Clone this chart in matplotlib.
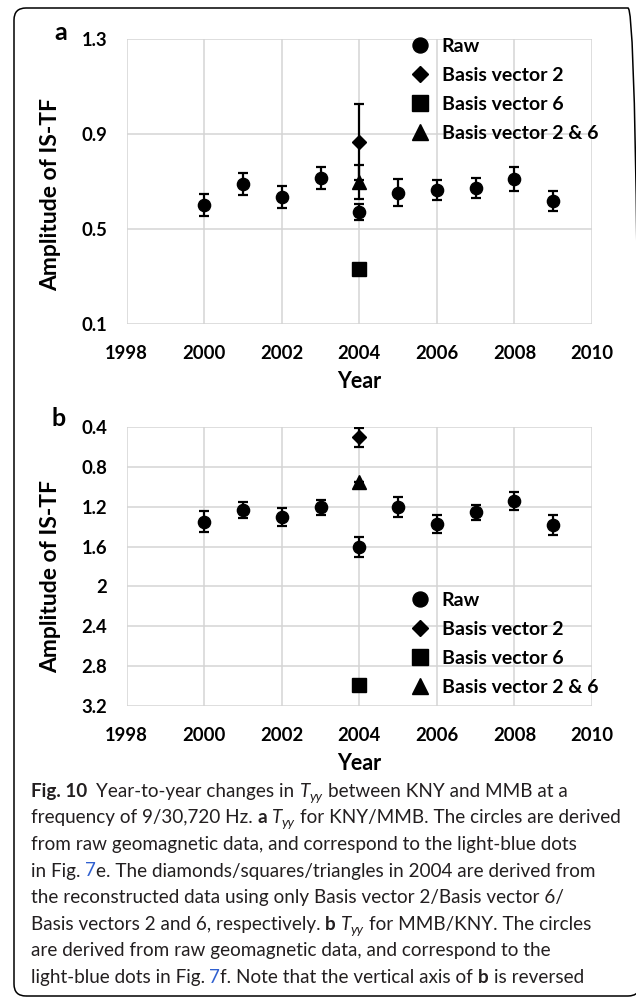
import matplotlib
matplotlib.use("Agg")
import matplotlib.pyplot as plt
from matplotlib.lines import Line2D
from matplotlib.patches import FancyBboxPatch
from matplotlib.transforms import IdentityTransform, offset_copy

# ---------------- data ----------------
years = [2000, 2001, 2002, 2003, 2004, 2005, 2006, 2007, 2008, 2009]
year_2004 = 2004

# panel a: Tyy for KNY/MMB
raw_a = [0.602, 0.692, 0.636, 0.716, 0.574, 0.654, 0.667, 0.675, 0.711, 0.618]
raw_a_err = [0.047, 0.046, 0.048, 0.045, 0.034, 0.058, 0.042, 0.042, 0.050, 0.043]
bv2_a, bv2_a_err = 0.866, 0.160
bv6_a, bv6_a_err = 0.332, 0.0
bv26_a, bv26_a_err = 0.700, 0.072

# panel b: Tyy for MMB/KNY
raw_b = [1.352, 1.235, 1.305, 1.209, 1.600, 1.202, 1.376, 1.259, 1.142, 1.386]
raw_b_err = [0.105, 0.080, 0.090, 0.077, 0.100, 0.100, 0.090, 0.074, 0.090, 0.100]
bv2_b, bv2_b_err = 0.507, 0.095
bv6_b, bv6_b_err = 2.983, 0.0
bv26_b, bv26_b_err = 0.951, 0.0

x_ticks = [1998, 2000, 2002, 2004, 2006, 2008, 2010]
y_ticks_a = [0.1, 0.5, 0.9, 1.3]
y_ticklabels_a = ["0.1", "0.5", "0.9", "1.3"]
y_ticks_b = [0.4, 0.8, 1.2, 1.6, 2.0, 2.4, 2.8, 3.2]
y_ticklabels_b = ["0.4", "0.8", "1.2", "1.6", "2", "2.4", "2.8", "3.2"]

series_labels = ["Raw", "Basis vector 2", "Basis vector 6", "Basis vector 2 & 6"]
x_label = "Year"
y_label = "Amplitude of IS-TF"

# ---------------- style ----------------
W, H = 636, 998
plt.rcParams["font.family"] = ["Lato", "DejaVu Sans"]

fig = plt.figure(figsize=(W / 100, H / 100), dpi=100)
fig.patch.set_facecolor("white")

GRID = "#d4d4d4"
INK = "black"
TICK_FS = 13.3
LABEL_FS = 16.5
XLABEL_FS = 15.5
LEG_FS = 14


def axes_rect(left, top, right, bottom):
    return [left / W, 1 - bottom / H, (right - left) / W, (bottom - top) / H]


def style_axes(ax, yticks, yticklabels):
    ax.set_xlim(x_ticks[0], x_ticks[-1])
    ax.set_xticks(x_ticks)
    ax.set_xticklabels([str(v) for v in x_ticks])
    ax.set_yticks(yticks)
    ax.set_yticklabels(yticklabels)
    for s in ax.spines.values():
        s.set_visible(False)
    ax.grid(True, color=GRID, linewidth=1.1)
    ax.set_axisbelow(True)
    ax.tick_params(length=0, labelsize=TICK_FS)
    ax.tick_params(axis="x", pad=15)
    ax.tick_params(axis="y", pad=14)
    for lab in ax.get_xticklabels() + ax.get_yticklabels():
        lab.set_fontweight("bold")


def draw_series(ax, raw, raw_err, bv2, bv2_err, bv6, bv6_err, bv26, bv26_err):
    eb = dict(fmt="none", ecolor=INK, elinewidth=1.6, capsize=3.3, capthick=1.6, zorder=3)
    ax.errorbar(years, raw, yerr=raw_err, **eb)
    ax.errorbar([year_2004], [bv2], yerr=[bv2_err], **eb)
    ax.errorbar([year_2004], [bv26], yerr=[bv26_err], **eb)
    if bv6_err > 0:
        ax.errorbar([year_2004], [bv6], yerr=[bv6_err], **eb)
    ax.plot(years, raw, "o", color=INK, ms=8.8, ls="none", zorder=4)
    ax.plot([year_2004], [bv2], "D", color=INK, ms=7.6, ls="none", zorder=4)
    ax.plot([year_2004], [bv6], "s", color=INK, ms=10.5, ls="none", zorder=4)
    ax.plot([year_2004], [bv26], "^", color=INK, ms=10.5, ls="none", zorder=4)


def add_legend(ax, top_px):
    handles = [
        Line2D([], [], marker="o", color=INK, ls="none", ms=10.8),
        Line2D([], [], marker="D", color=INK, ls="none", ms=8.4),
        Line2D([], [], marker="s", color=INK, ls="none", ms=11.0),
        Line2D([], [], marker="^", color=INK, ls="none", ms=11.5),
    ]
    leg = ax.legend(handles, series_labels, loc="upper left",
                    bbox_to_anchor=(411 / W, 1 - top_px / H),
                    bbox_transform=fig.transFigure,
                    frameon=False, borderpad=0, borderaxespad=0,
                    handlelength=0.95, handletextpad=0.62, labelspacing=0.62,
                    prop={"weight": "bold", "size": LEG_FS})
    return leg


def add_labels(ax, ylab_center_px, xlab_center_px, axes_box):
    left, top, right, bottom = axes_box
    ax.set_xlabel(x_label, fontsize=XLABEL_FS, fontweight="bold")
    ax.xaxis.set_label_coords((359 - left) / (right - left),
                              (bottom - xlab_center_px) / (bottom - top))
    ax.xaxis.label.set_va("center")
    ax.set_ylabel(y_label, fontsize=LABEL_FS, fontweight="bold")
    ax.yaxis.set_label_coords((50.7 - left) / (right - left),
                              (bottom - ylab_center_px) / (bottom - top))
    ax.yaxis.label.set_va("center")
    ax.yaxis.label.set_ha("center")


# ---------------- panel a ----------------
box_a = (126.7, 39.3, 592.0, 324.3)
ax_a = fig.add_axes(axes_rect(*box_a))
style_axes(ax_a, y_ticks_a, y_ticklabels_a)
ax_a.set_ylim(y_ticks_a[0], y_ticks_a[-1])
draw_series(ax_a, raw_a, raw_a_err, bv2_a, bv2_a_err, bv6_a, bv6_a_err, bv26_a, bv26_a_err)
add_legend(ax_a, 38)
add_labels(ax_a, 194.5, 381, box_a)
fig.text(61 / W, 1 - 33 / H, "a", fontsize=18, fontweight="bold", ha="center", va="center")

# ---------------- panel b (reversed vertical axis) ----------------
box_b = (126.7, 426.7, 592.0, 706.3)
ax_b = fig.add_axes(axes_rect(*box_b))
style_axes(ax_b, y_ticks_b, y_ticklabels_b)
ax_b.set_ylim(y_ticks_b[-1], y_ticks_b[0])
draw_series(ax_b, raw_b, raw_b_err, bv2_b, bv2_b_err, bv6_b, bv6_b_err, bv26_b, bv26_b_err)
add_legend(ax_b, 592)
add_labels(ax_b, 576.7, 763, box_b)
fig.text(59 / W, 1 - 418 / H, "b", fontsize=18, fontweight="bold", ha="center", va="center")

# ---------------- caption ----------------
CAP_FONT = ["Lato", "DejaVu Sans"]
CAP_INK = "#231f20"
LINK = "#3060d0"
TYY = "Tyy"               # drawn as italic T with italic subscript yy
CAP_LINE1_WIDTH = 538.0   # pixel width of the first caption line

caption_lines = [
    [("Fig. 10", "b"), ("  Year-to-year changes in ", "r"), (TYY, "m"),
     (" between KNY and MMB at a", "r")],
    [("frequency of 9/30,720 Hz. ", "r"), ("a", "b"), (" ", "r"), (TYY, "m"),
     (" for KNY/MMB. The circles are derived", "r")],
    [("from raw geomagnetic data, and correspond to the light-blue dots", "r")],
    [("in Fig. ", "r"), ("7", "link"),
     ("e. The diamonds/squares/triangles in 2004 are derived from", "r")],
    [("the reconstructed data using only Basis vector 2/Basis vector 6/", "r")],
    [("Basis vectors 2 and 6, respectively. ", "r"), ("b", "b"), (" ", "r"), (TYY, "m"),
     (" for MMB/KNY. The circles", "r")],
    [("are derived from raw geomagnetic data, and correspond to the", "r")],
    [("light-blue dots in Fig. ", "r"), ("7", "link"),
     ("f. Note that the vertical axis of ", "r"), ("b", "b"), (" is reversed", "r")],
]

renderer = fig.canvas.get_renderer()


def text_kwargs(kind, size):
    kw = dict(family=CAP_FONT, fontsize=size, color=CAP_INK, va="baseline", ha="left")
    if kind == "b":
        kw["fontweight"] = "bold"
    if kind in ("i", "m"):
        kw["fontstyle"] = "italic"
    if kind == "link":
        kw["color"] = LINK
    return kw


def put_text(x, y, s, kind, size, draw, dy_pt=0.0):
    t = fig.text(x / W, y, s, **text_kwargs(kind, size))
    if dy_pt:
        t.set_transform(offset_copy(fig.transFigure, fig=fig, x=0, y=dy_pt, units="points"))
    w = t.get_window_extent(renderer).width
    if not draw:
        t.remove()
    return w


def put_segment(x, y, s, kind, size, draw):
    if kind == "m":
        w = put_text(x, y, s[0], "m", size, draw)
        w += put_text(x + w, y, s[1:], "m", size * 0.72, draw, dy_pt=-size * 0.22)
        return w
    return put_text(x, y, s, kind, size, draw)


def layout_line(segs, size, x0, y, draw):
    sw = {k: put_text(0, 0, "a a", k, size, False) - put_text(0, 0, "aa", k, size, False)
          for k in ("r", "b")}
    x = x0
    for s, kind in segs:
        w_sp = sw["b" if kind == "b" else "r"]
        stripped = s.strip()
        lead = len(s) - len(s.lstrip())
        trail = len(s) - len(s.rstrip())
        if not stripped:
            x += len(s) * w_sp
            continue
        x += lead * w_sp
        x += put_segment(x, y, stripped, kind, size, draw)
        x += trail * w_sp
    return x - x0


trial = 14.0
cap_fs = trial * CAP_LINE1_WIDTH / layout_line(caption_lines[0], trial, 0, 0, False)

x0, base0, step = 30.5, 796.7, 26.6
for i, segs in enumerate(caption_lines):
    layout_line(segs, cap_fs, x0, 1 - (base0 + i * step) / H, True)

# rounded frame around figure and caption
frame = FancyBboxPatch((14, H - 996), 640 - 14, 996 - 8,
                       boxstyle="round,pad=0,rounding_size=12",
                       transform=IdentityTransform(), facecolor="none",
                       edgecolor="black", linewidth=1.1, zorder=10)
fig.patches.append(frame)

fig.savefig("out.png", dpi=100, facecolor="white")
